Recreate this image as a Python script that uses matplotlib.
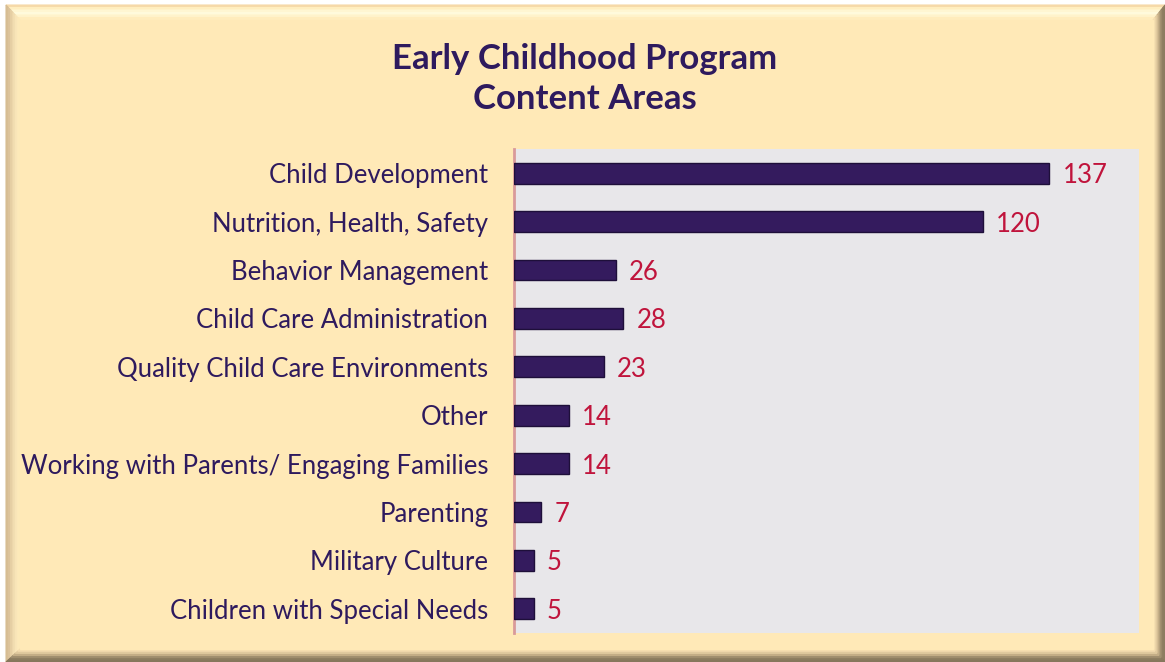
import matplotlib
matplotlib.use("Agg")
import matplotlib.pyplot as plt
from matplotlib.patches import Rectangle, Polygon

categories = ["Child Development", "Nutrition, Health, Safety", "Behavior Management",
              "Child Care Administration", "Quality Child Care Environments", "Other",
              "Working with Parents/ Engaging Families", "Parenting", "Military Culture",
              "Children with Special Needs"]
values = [137, 120, 26, 28, 23, 14, 14, 7, 5, 5]
title = "Early Childhood Program\nContent Areas"

W, H = 1165, 662
fig = plt.figure(figsize=(W / 100, H / 100), dpi=100)
fig.patch.set_facecolor("white")

def px(x0, y0, x1, y1):
    return (x0 / W, 1 - y1 / H, (x1 - x0) / W, (y1 - y0) / H)

bg = fig.add_axes([0, 0, 1, 1])
bg.set_xlim(0, W)
bg.set_ylim(H, 0)
bg.axis("off")

L, T, R, B = 6, 5, W, H             # outer frame
iL, iT, iR, iB = 20, 20, 1153, 649  # inner face

top_o = [(L, T), (R, T)]
top_i = [(iL, iT), (iR, iT)]
left_o = [(L, T), (L, B)]
left_i = [(iL, iT), (iL, iB)]
right_o = [(R, T), (R, B)]
right_i = [(iR, iT), (iR, iB)]
bot_o = [(L, B), (R, B)]
bot_i = [(iL, iB), (iR, iB)]

def side(o, i, colors):
    n = len(colors)
    for k, c in enumerate(colors):
        f0, f1 = k / n, (k + 1) / n
        a = [(oo[0] + (ii[0] - oo[0]) * f0, oo[1] + (ii[1] - oo[1]) * f0) for oo, ii in zip(o, i)]
        b = [(oo[0] + (ii[0] - oo[0]) * f1, oo[1] + (ii[1] - oo[1]) * f1) for oo, ii in zip(o, i)]
        bg.add_patch(Polygon([a[0], a[1], b[1], b[0]], closed=True, color=c, lw=0.8, zorder=2))

side(top_o, top_i, ["#f6d9a8", "#ffeebf", "#fff6d2", "#fffadc", "#fff3cb", "#ffecbc"])
side(left_o, left_i, ["#d6bd93", "#dcc39a", "#e6cfa4", "#f1dcb0", "#f9e5b8", "#fde9b9"])
side(right_o, right_i, ["#8c7c60", "#8f7f62", "#a39171", "#c5af88", "#e2cba0", "#f5deb0"])
side(bot_o, bot_i, ["#86775c", "#8a7a5e", "#a08e6e", "#c3ad86", "#e0c99e", "#f4dcae"])
bg.add_patch(Rectangle((iL, iT), iR - iL, iB - iT, color="#ffe9b7", zorder=3))

bg.text(585, 79, title, ha="center", va="center", fontsize=25, fontweight="bold",
        color="#2e1a5e", family="Lato", linespacing=1.3, zorder=5)

ax = fig.add_axes(px(514, 149, 1139, 633))
ax.set_facecolor("#e8e7ea")
y = list(range(len(categories)))
ax.barh(y, values, height=0.43, color="#341b5e", edgecolor="#1e0f3a", linewidth=1, zorder=3)
ax.set_xlim(0, 160)
ax.set_ylim(len(categories) - 0.5, -0.5)
ax.set_yticks(y)
ax.set_yticklabels(categories, fontsize=18.5, color="#2e1a5e", family="Lato")
ax.tick_params(axis="y", length=0, pad=18.5)
for lab in ax.get_yticklabels():
    lab.set_verticalalignment("center_baseline")
ax.set_xticks([])
for s in ["top", "right", "bottom"]:
    ax.spines[s].set_visible(False)
ax.spines["left"].set_color("#d99a9a")
ax.spines["left"].set_linewidth(2)
for yi, v in zip(y, values):
    ax.text(v + 3.4, yi, str(v), va="center_baseline", ha="left", fontsize=18.5,
            color="#c0143c", family="Lato", zorder=4)

fig.savefig("out.png", dpi=100)
